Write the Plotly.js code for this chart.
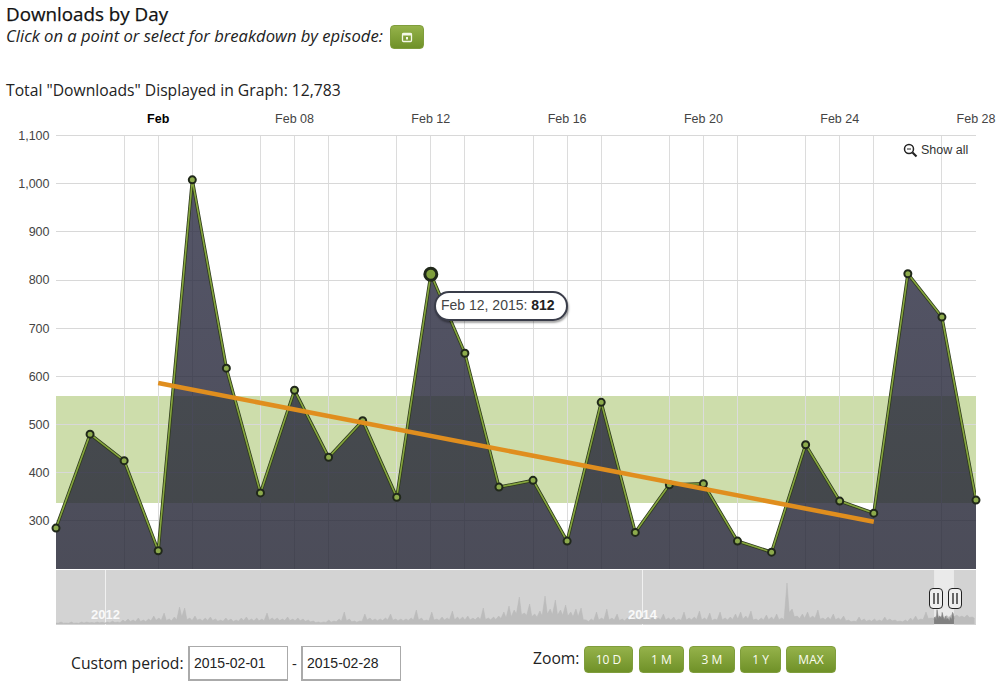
<!DOCTYPE html>
<html><head><meta charset="utf-8">
<script src="https://cdn.plot.ly/plotly-3.0.1.min.js"></script>
<style>
html,body{margin:0;padding:0;background:#fff;width:1000px;height:682px;overflow:hidden}
#chart{position:absolute;left:0;top:0;width:1000px;height:682px}
.t{position:absolute;white-space:nowrap;font-family:"Open Sans",sans-serif;color:#222}
.btn{position:absolute;box-sizing:border-box;border-radius:4px;background:linear-gradient(#95b24a,#6f9128);color:#fbfdf2;font:12px "Open Sans",sans-serif;text-align:center;border:1px solid #7f9d3c}
.inp{position:absolute;box-sizing:border-box;width:100px;height:35px;top:646px;border:1px solid #aaa;border-left-width:2px;border-bottom-width:2px;font:14px "Liberation Sans",sans-serif;color:#222;padding:8px 0 0 4px;background:#fff}
.handle{position:absolute;box-sizing:border-box;top:588px;width:14px;height:21px;border:1.5px solid #222;border-radius:4px;background:#eee}
.handle i{position:absolute;top:4px;width:2px;height:11px;background:#666}
#tip{position:absolute;left:434px;top:291px;width:134px;height:30px;box-sizing:border-box;border:2px solid #3a3d4a;border-radius:15px;background:#fff;box-shadow:1px 2px 2px rgba(0,0,0,.35);font:14px "Liberation Sans",sans-serif;color:#444;line-height:24px;padding-left:5px}
#tip b{color:#222}
</style></head>
<body>
<div id="chart"></div>
<div class="t" id="title" style="left:6px;top:4px;height:20px;line-height:20px;font-size:18.8px;color:#111;-webkit-text-stroke:0.25px #111"></div>
<div class="t" id="sub" style="left:6px;top:25px;height:21px;line-height:21px;font-size:16.6px;font-style:italic"></div>
<div class="btn" style="left:390px;top:25px;width:34px;height:24px"><svg width="12" height="12" viewBox="0 0 12 12" style="margin-top:5px"><rect x="1.5" y="2.5" width="9" height="8" rx="1" fill="none" stroke="#f4f8e8" stroke-width="1.3"/><rect x="1.5" y="2" width="9" height="2.5" fill="#f4f8e8"/><rect x="5" y="6" width="2" height="2.5" fill="#f4f8e8"/></svg></div>
<div class="t" id="total" style="left:6px;top:79px;font-size:15.7px"></div>
<div class="t" id="showall" style="left:921px;top:143px;font:12.5px 'Liberation Sans',sans-serif;color:#333"></div>
<svg style="position:absolute;left:903px;top:143px" width="15" height="15" viewBox="0 0 15 15"><circle cx="6" cy="6" r="4.5" fill="#fff" stroke="#222" stroke-width="1.5"/><path d="M9.5 9.5L13.5 13.5" stroke="#222" stroke-width="2.2"/><path d="M4 6h4" stroke="#222"/></svg>
<div id="tip"></div>
<div class="handle" style="left:929px"><i style="left:3px"></i><i style="left:7px"></i></div>
<div class="handle" style="left:948px"><i style="left:3px"></i><i style="left:7px"></i></div>
<div class="t" id="custom" style="left:71px;top:652px;font-size:15.7px"></div>
<div class="inp" id="from" style="left:188px"></div>
<div class="t" style="left:292px;top:653px;font-size:15px">-</div>
<div class="inp" id="to" style="left:301px"></div>
<div class="t" id="zoomlabel" style="left:533px;top:647px;font-size:15.7px"></div>
<div id="zooms"></div>
<script>
// ---- text ----
const titleText = 'Downloads by Day';
const subText = 'Click on a point or select for breakdown by episode:';
const totalText = 'Total "Downloads" Displayed in Graph: 12,783';
const showAllText = 'Show all';
const customText = 'Custom period:';
const zoomText = 'Zoom:';
const periodFrom = '2015-02-01';
const periodTo = '2015-02-28';
const zoomButtons = ['10 D','1 M','3 M','1 Y','MAX'];
const zoomLeft = [584,639,689,740,786];
const zoomWidth = [49,45,46,41,50];

// ---- main series ----
const days = ['2015-02-01','2015-02-02','2015-02-03','2015-02-04','2015-02-05','2015-02-06','2015-02-07','2015-02-08','2015-02-09','2015-02-10','2015-02-11','2015-02-12','2015-02-13','2015-02-14','2015-02-15','2015-02-16','2015-02-17','2015-02-18','2015-02-19','2015-02-20','2015-02-21','2015-02-22','2015-02-23','2015-02-24','2015-02-25','2015-02-26','2015-02-27','2015-02-28'];
const downloads = [285,480,425,238,1008,617,358,571,432,508,349,812,648,370,384,258,546,276,375,377,258,235,458,341,316,813,723,343];
const highlightDay = ['2015-02-12'];
const highlightValue = [812];
const trendDays = ['2015-02-04','2015-02-25'];
const trendValues = [586,298];
const bandLow = 337;
const bandHigh = 559;

// ---- axes ----
const gridDays = ['2015-02-01','2015-02-03','2015-02-04','2015-02-05','2015-02-07','2015-02-08','2015-02-09','2015-02-11','2015-02-12','2015-02-13','2015-02-15','2015-02-16','2015-02-17','2015-02-19','2015-02-20','2015-02-21','2015-02-23','2015-02-24','2015-02-25','2015-02-27','2015-02-28'];
const gridLabels = ['','','<span style="color:#000"><b>Feb</b></span>','','','Feb 08','','','Feb 12','','','Feb 16','','','Feb 20','','','Feb 24','','','Feb 28'];
const yTicks = [300,400,500,600,700,800,900,1000,1100];

// ---- navigator: weekly highs and the mid-week lows between them, read from the small overview ----
const navStart = '2011-10-26';
const navEnd = '2015-03-30';
const navYears = ['2012-01-01','2014-01-01'];
const navYearLabels = ['2012','2014'];
const navPeaks = [
70,140,70,140,70,140,140,110,140,120,
140,200,140,280,350,280,420,280,350,560,
420,770,350,490,1190,1120,420,560,350,420,
490,350,280,420,350,280,420,490,350,420,
350,770,420,420,350,490,350,420,350,280,
210,140,140,280,210,350,840,350,210,210,
700,420,350,350,420,700,350,350,350,420,
980,420,280,840,350,490,420,910,490,490,
560,420,490,1120,420,490,560,840,1260,980,
1890,770,1400,700,910,1960,1050,1680,980,1330,
840,1050,1120,280,350,840,420,1050,420,700,
350,420,560,420,490,420,560,420,700,420,
490,350,840,420,490,910,420,770,350,840,
420,490,700,840,560,910,350,420,630,490,
700,420,2870,1050,560,700,840,560,980,420,
490,700,420,560,280,210,490,350,280,350,
280,490,350,280,210,280,420,560,350,840,
420,560,560,600,650,630,560,630,490];
const navLows = [
50,60,50,60,50,70,80,70,80,70,
90,100,90,150,180,170,180,170,220,260,
250,250,220,280,500,300,250,270,220,250,
250,200,190,230,180,190,240,240,220,220,
230,270,280,240,240,240,230,230,190,150,
100,90,110,130,150,200,230,150,130,180,
280,250,230,240,280,260,230,230,250,280,
280,220,220,280,250,280,300,290,300,280,
280,290,300,320,290,310,380,420,500,700,
650,600,520,480,560,700,650,620,600,560,
500,520,300,180,230,280,300,280,280,250,
230,260,280,280,290,280,280,290,280,280,
240,260,280,300,320,290,280,240,280,300,
280,320,350,340,350,280,240,280,300,300,
300,300,800,500,380,400,400,400,340,300,
300,290,280,220,150,160,220,200,190,200,
190,230,220,180,150,170,240,260,300,380,
400,420,450,480,500,480,450,460,400];
function navDay(offset) {
  const d = new Date(navStart + 'T00:00:00Z');
  d.setUTCDate(d.getUTCDate() + offset);
  return d.toISOString().slice(0, 10);
}
const navDates = navPeaks.flatMap((_, i) => [navDay(7 * i), navDay(7 * i + 3)]);
const navValues = navPeaks.flatMap((v, i) => [v, navLows[i]]);

// ---- fill page text ----
document.getElementById('title').textContent = titleText;
document.getElementById('sub').textContent = subText;
document.getElementById('total').textContent = totalText;
document.getElementById('showall').textContent = showAllText;
document.getElementById('custom').textContent = customText;
document.getElementById('zoomlabel').textContent = zoomText;
document.getElementById('from').textContent = periodFrom;
document.getElementById('to').textContent = periodTo;
document.getElementById('tip').innerHTML = 'Feb 12, 2015: <b>' + highlightValue[0] + '</b>';
document.getElementById('zooms').innerHTML = zoomButtons.map((b, i) =>
  '<div class="btn" style="left:' + zoomLeft[i] + 'px;top:646px;width:' + zoomWidth[i] + 'px;height:27px;line-height:26px">' + b + '</div>').join('');

// ---- chart ----
const H = 682;
const axisFont = {family: '"Liberation Sans", Arial, sans-serif', size: 12.5, color: '#444'};
const traces = [
  {x: days, y: downloads, type: 'scatter', mode: 'lines', fill: 'tozeroy',
   fillgradient: {type: 'vertical', start: 200, stop: 1008, colorscale: [[0, 'rgba(36,37,52,0.82)'], [1, 'rgba(42,43,66,0.80)']]},
   line: {color: '#2e3a1e', width: 3.2}, hoverinfo: 'skip'},
  {x: days, y: downloads, type: 'scatter', mode: 'lines+markers', cliponaxis: false,
   line: {color: '#86a63e', width: 1.6},
   marker: {size: 7, color: '#8dab4c', line: {color: '#20281a', width: 2}}, hoverinfo: 'x+y'},
  {x: trendDays, y: trendValues, type: 'scatter', mode: 'lines', line: {color: '#e08e1e', width: 4.5}, hoverinfo: 'skip'},
  {x: highlightDay, y: highlightValue, type: 'scatter', mode: 'markers', cliponaxis: false,
   marker: {size: 12, color: '#7f9f3c', line: {color: '#20281a', width: 3}}, hoverinfo: 'skip'},
  {x: navDates, y: navValues, xaxis: 'x2', yaxis: 'y2', type: 'scatter', mode: 'lines', fill: 'tozeroy',
   fillcolor: '#bcbcbc', line: {color: '#b8b8b8', width: 0.5}, hoverinfo: 'skip'},
  {x: days, y: downloads, xaxis: 'x2', yaxis: 'y2', type: 'scatter', mode: 'lines', fill: 'tozeroy',
   fillcolor: '#808080', line: {color: '#808080', width: 0.6}, hoverinfo: 'skip'}
];
const layout = {
  width: 1000, height: H, showlegend: false, paper_bgcolor: '#fff', plot_bgcolor: 'rgba(0,0,0,0)',
  margin: {l: 56, r: 23.5, t: 0, b: 0, pad: 0},
  xaxis: {type: 'date', side: 'top', anchor: 'y', domain: [0, 1], range: ['2015-02-01', '2015-02-28'],
    tickmode: 'array', tickvals: gridDays, ticktext: gridLabels, tickangle: 0, ticks: 'outside', ticklen: 7, tickcolor: 'rgba(0,0,0,0)',
    showgrid: true, gridcolor: '#dcdcdc', gridwidth: 1, zeroline: false, showline: true, linecolor: '#d8d8d8', linewidth: 1, tickfont: axisFont, fixedrange: true},
  yaxis: {anchor: 'x', domain: [1 - 569 / H, 1 - 135.5 / H], range: [200, 1100],
    tickmode: 'array', tickvals: yTicks, tickformat: ',d', ticks: 'outside', ticklen: 3, tickcolor: 'rgba(0,0,0,0)',
    showgrid: true, gridcolor: '#d8d8d8', gridwidth: 1, zeroline: false, showline: false, tickfont: axisFont, fixedrange: true},
  xaxis2: {type: 'date', anchor: 'y2', domain: [0, 1], range: [navStart, navEnd],
    tickmode: 'array', tickvals: navYears, showticklabels: false, ticks: '',
    showgrid: true, gridcolor: '#f0f0f0', gridwidth: 1.4, zeroline: false, showline: false, fixedrange: true},
  yaxis2: {anchor: 'x2', domain: [1 - 625 / H, 1 - 570 / H], range: [-70, 3780],
    showticklabels: false, showgrid: false, zeroline: false, ticks: '', fixedrange: true},
  shapes: [
    {type: 'rect', layer: 'below', xref: 'x domain', yref: 'y', x0: 0, x1: 1, y0: bandLow, y1: bandHigh,
     fillcolor: 'rgba(144,179,68,0.45)', line: {width: 0}},
    {type: 'rect', layer: 'below', xref: 'x2 domain', yref: 'y2 domain', x0: 0, x1: 1, y0: 0, y1: 1,
     fillcolor: '#d3d3d3', line: {width: 0}},
    {type: 'rect', layer: 'below', xref: 'x2', yref: 'y2 domain', x0: days[0], x1: days[days.length - 1], y0: 0, y1: 1,
     fillcolor: '#eaeaea', line: {width: 0}}
  ],
  annotations: navYears.map((d, i) => ({
    x: d, xref: 'x2', y: 0.19, yref: 'y2 domain', yanchor: 'middle', text: '<b>' + navYearLabels[i] + '</b>', showarrow: false,
    font: {family: '"Liberation Sans", Arial, sans-serif', size: 13, color: 'rgba(255,255,255,0.88)'}
  }))
};
Plotly.newPlot('chart', traces, layout, {displayModeBar: false, responsive: false});
</script>
</body></html>
